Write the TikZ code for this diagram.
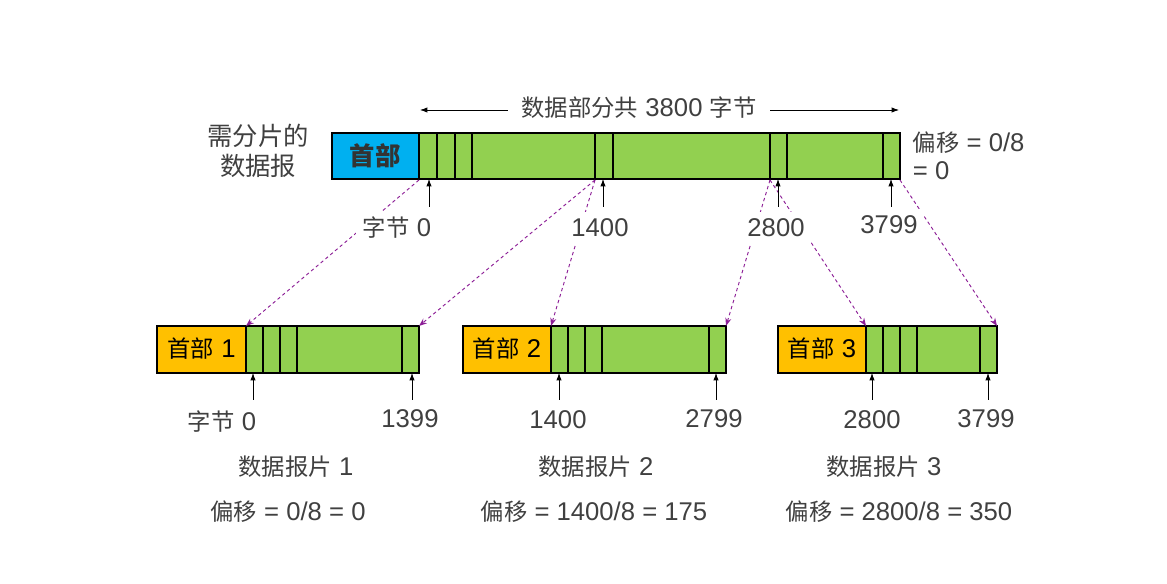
\documentclass[tikz,border=0pt]{standalone}
\usepackage{fontspec}
\setmainfont{Liberation Sans}[Scale=1.1]
\newfontfamily\cjk{Noto Sans CJK SC}
\usetikzlibrary{arrows.meta}

\definecolor{datagreen}{RGB}{146,208,80}
\definecolor{hdrblue}{RGB}{0,176,240}
\definecolor{hdrorange}{RGB}{255,192,0}
\definecolor{txtgray}{RGB}{64,64,64}
\definecolor{movepurple}{RGB}{140,30,150}

\tikzset{
	lbl/.style={text=txtgray, font=\fontsize{17.5}{21}\selectfont, fill=white, inner sep=5pt},
	hdrtxt/.style={font=\fontsize{17.5}{21}\selectfont, inner sep=0pt},
	tick/.style={-{Latex[length=5.5pt,width=4pt]}, line width=0.6pt},
	move/.style={movepurple, line width=0.7pt, dash pattern=on 2.5pt off 2.2pt,
		-{Stealth[length=6pt,width=4.5pt]}},
}

\begin{document}
\begin{tikzpicture}[x=0.75pt, y=-0.75pt]
	\useasboundingbox (0,0) rectangle (1167,584);

	% datagram to be fragmented
	\fill[datagreen] (419,133) rectangle (900,179);
	\foreach \x in {437,455,472,595,613,770,787,883}
		\draw[line width=0.8pt] (\x,133) -- (\x,179);
	\fill[hdrblue] (332,133) rectangle (419,179);
	\draw[line width=0.8pt] (419,133) -- (419,179);
	\draw[line width=2pt] (332,133) rectangle (900,179);
	\node[hdrtxt, font=\fontsize{19}{22}\selectfont, text=txtgray!80!black] (hdr) at (375,156) {\cjk\bfseries 首部};

	% data length
	\coordinate (spanL) at (420,110);
	\coordinate (spanR) at (899,110);
	\draw[{Latex[length=5.5pt,width=4pt]}-{Latex[length=5.5pt,width=4pt]}, line width=0.6pt] (spanL) -- (spanR);
	\node[lbl, inner xsep=10pt] (span) at (639,108) {{\cjk 数据部分共} 3800 {\cjk 字节}};

	\node[lbl, align=center, font=\fontsize{19}{22}\selectfont] (dg) at (258,151) {\cjk 需分片的\\\cjk 数据报};
	\node[lbl, align=left, anchor=west, inner xsep=2pt] (dgoff) at (910,156) {{\cjk 偏移} = 0/8\\= 0};

	% fragments
	\foreach \n/\l/\h/\r in {1/157/246/419, 2/463/551/726, 3/778/866/997} {
		\fill[hdrorange] (\l,326) rectangle (\h,373);
		\fill[datagreen] (\h,326) rectangle (\r,373);
		\foreach \dx in {17,34,51}
			\draw[line width=0.8pt] (\h+\dx,326) -- (\h+\dx,373);
		\draw[line width=0.8pt] (\r-17,326) -- (\r-17,373);
		\draw[line width=0.8pt] (\l,326) rectangle (\r,373) (\h,326) -- (\h,373);
		\node[hdrtxt] (h\n) at ({(\l+\h)/2},349) {{\cjk 首部} \n};
		\coordinate (s\n) at (\h,326);
		\coordinate (e\n) at (\r,326);
	}

	% where the pieces go
	\coordinate (o0) at (419,180);
	\coordinate (o1400) at (595,180);
	\coordinate (o2800) at (770,180);
	\coordinate (oend) at (900,180);
	\draw[move] (o0) -- (s1);
	\draw[move] (o1400) -- (e1);
	\draw[move] (o1400) -- (s2);
	\draw[move] (o2800) -- (e2);
	\draw[move] (o2800) -- (s3);
	\draw[move] (oend) -- (e3);

	% byte positions
	\foreach \x/\n in {429/t0, 603/t1400, 778/t2800, 891/t3799} {
		\coordinate (\n) at (\x,179);
		\draw[tick] (\x,207) -- (\n);
	}
	\foreach \x/\n in {253/b0, 412/b1399, 559/b1400, 716/b2799, 872/b2800, 988/b3799} {
		\coordinate (\n) at (\x,373);
		\draw[tick] (\x,400) -- (\n);
	}

	\node[lbl] (lt0) at (397,228) {{\cjk 字节} 0};
	\node[lbl] (lt1400) at (600,228) {1400};
	\node[lbl] (lt2800) at (776,228) {2800};
	\node[lbl] (lt3799) at (889,225) {3799};

	\node[lbl] (lb0) at (222,422) {{\cjk 字节} 0};
	\node[lbl] (lb1399) at (410,419) {1399};
	\node[lbl] (lb1400) at (558,420) {1400};
	\node[lbl] (lb2799) at (714,419) {2799};
	\node[lbl] (lb2800) at (872,420) {2800};
	\node[lbl] (lb3799) at (986,419) {3799};

	% captions
	\node[lbl] (cap1) at (296,467) {{\cjk 数据报片} 1};
	\node[lbl] (cap2) at (596,467) {{\cjk 数据报片} 2};
	\node[lbl] (cap3) at (884,467) {{\cjk 数据报片} 3};
	\node[lbl] (off1) at (288,512) {{\cjk 偏移} = 0/8 = 0};
	\node[lbl] (off2) at (594,512) {{\cjk 偏移} = 1400/8 = 175};
	\node[lbl] (off3) at (899,512) {{\cjk 偏移} = 2800/8 = 350};
\end{tikzpicture}
\end{document}
